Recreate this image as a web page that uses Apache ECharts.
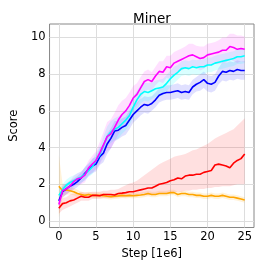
<!DOCTYPE html>
<html><head><meta charset="utf-8">
<script src="https://cdn.jsdelivr.net/npm/echarts@6/dist/echarts.min.js"></script>
<style>html,body{margin:0;padding:0;background:#fff}#c{width:266px;height:266px}</style>
</head><body><div id="c"></div>
<script>
const steps = [0,0.5,1,1.5,2,2.5,3,3.5,4,4.5,5,5.5,6,6.5,7,7.5,8,8.5,9,9.5,10,10.5,11,11.5,12,12.5,13,13.5,14,14.5,15,15.5,16,16.5,17,17.5,18,18.5,19,19.5,20,20.5,21,21.5,22,22.5,23,23.5,24,24.5,25];
const xTicks = [0,5,10,15,20,25];
const yTicks = [0,2,4,6,8,10];

const magenta = [0.9,1.65,1.75,1.9,2.15,2.3,2.35,2.5,2.9,3.1,3.3,3.7,4.15,4.6,4.75,5.1,5.5,5.8,6.0,6.3,6.7,6.9,7.25,7.6,7.7,7.6,7.9,8.15,8.1,8.4,8.35,8.6,8.7,8.8,8.9,9.0,9.05,8.95,8.85,8.9,9.05,9.1,9.15,9.2,9.3,9.3,9.5,9.45,9.35,9.4,9.35];
const magentaSpread = [0.3,0.3,0.3,0.3,0.3,0.3,0.35,0.4,0.4,0.45,0.5,0.6,0.7,0.8,0.8,0.8,0.8,0.75,0.7,0.7,0.65,0.6,0.6,0.55,0.55,0.5,0.5,0.55,0.6,0.6,0.65,0.6,0.6,0.6,0.6,0.65,0.6,0.6,0.65,0.6,0.6,0.6,0.6,0.65,0.7,0.7,0.7,0.75,0.75,0.7,0.7];

const cyan = [1.4,1.7,1.95,2.1,2.2,2.3,2.4,2.55,2.75,2.95,3.3,3.6,4.1,4.6,4.85,5.0,5.1,5.3,5.5,5.75,6.2,6.6,6.9,7.05,7.0,7.1,7.2,7.25,7.3,7.5,7.75,7.95,8.1,8.3,8.35,8.3,8.4,8.35,8.4,8.4,8.5,8.5,8.6,8.65,8.7,8.75,8.8,8.85,8.95,8.95,9.0];
const cyanSpread = [0.3,0.3,0.3,0.3,0.3,0.3,0.3,0.35,0.35,0.4,0.4,0.45,0.5,0.55,0.6,0.6,0.6,0.55,0.55,0.55,0.55,0.5,0.5,0.5,0.5,0.45,0.45,0.45,0.45,0.45,0.45,0.45,0.4,0.4,0.4,0.4,0.4,0.4,0.4,0.4,0.4,0.4,0.4,0.4,0.4,0.4,0.4,0.4,0.4,0.4,0.4];

const blue = [1.1,1.6,1.75,1.9,2.0,2.15,2.35,2.6,2.8,3.0,3.1,3.5,3.7,4.2,4.5,4.9,4.95,5.1,5.2,5.5,5.8,6.0,6.2,6.35,6.3,6.4,6.6,6.85,6.95,7.0,7.0,7.05,7.1,7.0,7.05,7.0,7.3,7.45,7.55,7.7,7.5,7.45,7.55,7.9,8.15,8.1,8.2,8.15,8.25,8.2,8.2];
const blueSpread = [0.3,0.3,0.3,0.3,0.3,0.3,0.3,0.35,0.35,0.4,0.4,0.45,0.5,0.55,0.55,0.55,0.5,0.5,0.5,0.5,0.45,0.45,0.45,0.45,0.45,0.4,0.4,0.4,0.4,0.4,0.4,0.4,0.4,0.4,0.4,0.4,0.4,0.4,0.45,0.45,0.45,0.45,0.45,0.45,0.5,0.5,0.5,0.5,0.5,0.5,0.5];

const red = [0.7,0.95,1.0,1.1,1.15,1.25,1.35,1.3,1.3,1.4,1.4,1.38,1.45,1.45,1.45,1.42,1.5,1.52,1.55,1.6,1.6,1.65,1.7,1.75,1.8,1.8,1.9,2.0,2.05,2.1,2.2,2.25,2.35,2.3,2.45,2.5,2.5,2.55,2.55,2.65,2.7,2.75,3.05,3.1,3.05,3.0,2.9,3.15,3.3,3.4,3.65];
const redLow = [0.4,0.6,0.7,0.8,0.9,1.0,1.1,1.1,1.1,1.2,1.2,1.2,1.25,1.25,1.25,1.25,1.3,1.3,1.3,1.35,1.35,1.35,1.4,1.4,1.4,1.4,1.45,1.5,1.5,1.5,1.55,1.55,1.6,1.6,1.65,1.65,1.7,1.7,1.75,1.75,1.8,1.8,1.85,1.85,1.9,1.9,1.9,1.95,2.0,2.0,2.0];
const redHigh = [0.9,1.25,1.3,1.45,1.5,1.5,1.6,1.55,1.55,1.6,1.6,1.6,1.65,1.65,1.7,1.7,1.75,1.85,1.95,2.05,2.1,2.2,2.35,2.5,2.65,2.8,2.95,3.1,3.2,3.3,3.4,3.5,3.55,3.6,3.65,3.75,3.85,3.9,4.0,4.1,4.2,4.35,4.5,4.6,4.7,4.8,4.9,5.0,5.2,5.4,5.6];

const orange = [1.9,1.65,1.7,1.65,1.6,1.5,1.45,1.4,1.45,1.4,1.4,1.4,1.38,1.35,1.33,1.35,1.37,1.4,1.38,1.4,1.38,1.4,1.42,1.45,1.5,1.45,1.45,1.5,1.5,1.5,1.55,1.55,1.45,1.5,1.5,1.45,1.45,1.4,1.4,1.35,1.35,1.4,1.35,1.35,1.4,1.35,1.3,1.3,1.25,1.2,1.15];
const orangeSpread = [1.7,0.4,0.25,0.2,0.2,0.2,0.15,0.15,0.15,0.15,0.15,0.15,0.15,0.15,0.15,0.15,0.15,0.15,0.15,0.15,0.15,0.15,0.15,0.15,0.15,0.15,0.15,0.15,0.15,0.15,0.15,0.15,0.15,0.15,0.15,0.15,0.15,0.15,0.15,0.15,0.15,0.15,0.15,0.15,0.15,0.15,0.15,0.15,0.15,0.15,0.15];

const FONT = 'DejaVu Sans';
const pairs = (ys) => steps.map((x, i) => [x, ys[i]]);

function band(lo, hi, color, opacity) {
  return {
    type: 'custom', silent: true, z: 1, clip: true,
    data: [[0, 0]],
    encode: { x: 0, y: 1 },
    renderItem: function (params, api) {
      const pts = [];
      for (let i = 0; i < steps.length; i++) pts.push(api.coord([steps[i], hi[i]]));
      for (let i = steps.length - 1; i >= 0; i--) pts.push(api.coord([steps[i], lo[i]]));
      return { type: 'polygon', shape: { points: pts }, style: { fill: color, opacity: opacity } };
    }
  };
}
function line(name, ys, color) {
  return { type: 'line', name: name, data: pairs(ys), symbol: 'none',
    lineStyle: { color: color, width: 1.6 }, z: 3 };
}
const lo = (v, s) => v.map((y, i) => y - s[i]);
const hi = (v, s) => v.map((y, i) => y + s[i]);

const series = [
  band(lo(orange, orangeSpread), hi(orange, orangeSpread), '#ffa500', 0.15),
  band(redLow, redHigh, '#ff0000', 0.12),
  band(lo(blue, blueSpread), hi(blue, blueSpread), '#0000ff', 0.12),
  band(lo(cyan, cyanSpread), hi(cyan, cyanSpread), '#00ffff', 0.15),
  band(lo(magenta, magentaSpread), hi(magenta, magentaSpread), '#ff00ff', 0.12),
  line('orange', orange, '#ffa500'), line('red', red, '#ff0000'),
  line('blue', blue, '#0000ff'), line('cyan', cyan, '#00ffff'), line('magenta', magenta, '#ff00ff')
];

const chart = echarts.init(document.getElementById('c'), null, { renderer: 'canvas' });
chart.setOption({
  animation: false,
  backgroundColor: '#ffffff',
  title: { text: 'Miner', left: 128, top: 7,
    textStyle: { fontFamily: FONT, fontSize: 13.5, fontWeight: 'normal', color: '#000' } },
  grid: { left: 40.5, top: 24, width: 213.5, height: 203.5, show: true, borderColor: '#888', borderWidth: 1, backgroundColor: 'transparent' },
  xAxis: { type: 'value', min: -1.25, max: 26.25,
    name: 'Step [1e6]', nameLocation: 'middle', nameGap: 21,
    nameTextStyle: { fontFamily: FONT, fontSize: 11.5, color: '#000' },
    axisLine: { show: false }, axisTick: { show: false, customValues: xTicks },
    axisLabel: { customValues: xTicks, fontFamily: FONT, fontSize: 11.5, color: '#000', margin: 4 },
    splitLine: { show: true, lineStyle: { color: '#dddddd', width: 1 } } },
  yAxis: { type: 'value', min: -0.35, max: 10.73,
    name: 'Score', nameLocation: 'middle', nameGap: 24, nameRotate: 90,
    nameTextStyle: { fontFamily: FONT, fontSize: 11.5, color: '#000' },
    axisLine: { show: false }, axisTick: { show: false, customValues: yTicks },
    axisLabel: { customValues: yTicks, fontFamily: FONT, fontSize: 11.5, color: '#000', margin: 4 },
    splitLine: { show: true, lineStyle: { color: '#dddddd', width: 1 } } },
  series: series
});
</script></body></html>
